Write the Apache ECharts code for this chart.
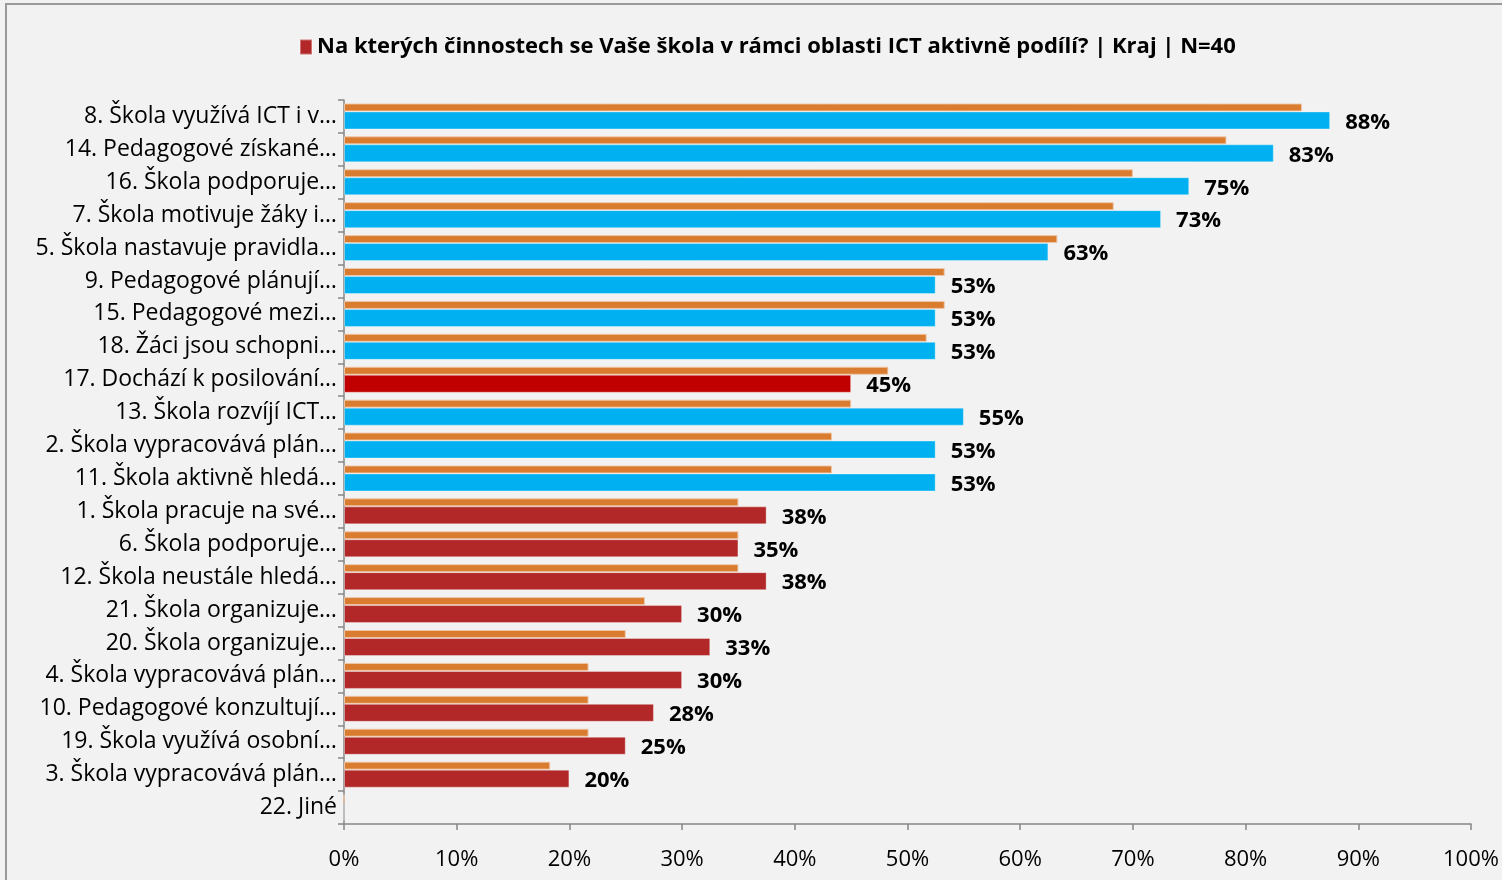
<!DOCTYPE html>
<html>
<head>
<meta charset="utf-8">
<script src="https://cdn.jsdelivr.net/npm/echarts@6/dist/echarts.min.js"></script>
<style>
  html, body { margin: 0; padding: 0; background: #F2F2F2; }
  #chart { width: 1502px; height: 880px; }
</style>
</head>
<body>
<div id="chart"></div>
<script>
// otázky (shora dolů)
var kategorie = [
  '8. Škola využívá ICT i v…',
  '14. Pedagogové získané…',
  '16. Škola podporuje…',
  '7. Škola motivuje žáky i…',
  '5. Škola nastavuje pravidla…',
  '9. Pedagogové plánují…',
  '15. Pedagogové mezi…',
  '18. Žáci jsou schopni…',
  '17. Dochází k posilování…',
  '13. Škola rozvíjí ICT…',
  '2. Škola vypracovává plán…',
  '11. Škola aktivně hledá…',
  '1. Škola pracuje na své…',
  '6. Škola podporuje…',
  '12. Škola neustále hledá…',
  '21. Škola organizuje…',
  '20. Škola organizuje…',
  '4. Škola vypracovává plán…',
  '10. Pedagogové konzultují…',
  '19. Škola využívá osobní…',
  '3. Škola vypracovává plán…',
  '22. Jiné'
]
// Kraj, N=40 (%)
var kraj = [87.5, 82.5, 75, 72.5, 62.5, 52.5, 52.5, 52.5, 45, 55, 52.5, 52.5,
  37.5, 35, 37.5, 30, 32.5, 30, 27.5, 25, 20, 0]
// srovnávací soubor (%)
var srovnani = [85, 78.3, 70, 68.3, 63.3, 53.3, 53.3, 51.7, 48.3, 45, 43.3, 43.3,
  35, 35, 35, 26.7, 25, 21.7, 21.7, 21.7, 18.3, 0]
// hodnocení oproti srovnání: 'nad', 'pod', 'vyrazne'
var hodnoceni = ['nad', 'nad', 'nad', 'nad', 'nad', 'nad', 'nad', 'nad', 'vyrazne',
  'nad', 'nad', 'nad', 'pod', 'pod', 'pod', 'pod', 'pod', 'pod', 'pod', 'pod', 'pod', 'pod']
var osaX = [0, 10, 20, 30, 40, 50, 60, 70, 80, 90, 100]

var nazev = 'Na kterých činnostech se Vaše škola v rámci oblasti ICT aktivně podílí? | Kraj | N=40'
var barvy = { nad: '#00B0F0', pod: '#B22828', vyrazne: '#C00000' }
var font = '"Open Sans", Lato, sans-serif'

var chart = echarts.init(document.getElementById('chart'))
var option = {
  backgroundColor: '#F2F2F2',
  animation: false,
  textStyle: { fontFamily: font },
  graphic: [{
    type: 'rect',
    shape: { x: 6, y: 4, width: 1520, height: 900 },
    style: { fill: 'none', stroke: '#9A9A9A', lineWidth: 2 }
  }],
  legend: {
    top: 31,
    left: 294,
    icon: 'rect',
    itemWidth: 12,
    itemHeight: 15,
    itemGap: 6,
    data: [nazev],
    textStyle: { fontSize: 22, fontWeight: 'bold', color: '#000', fontFamily: font }
  },
  grid: { left: 344, right: 31, top: 100, bottom: 56 },
  xAxis: {
    type: 'value',
    min: 0,
    max: 100,
    interval: 10,
    axisLine: { show: true, lineStyle: { color: '#868686', width: 1.5 } },
    axisTick: { show: true, length: 6, lineStyle: { color: '#868686', width: 1.5 } },
    splitLine: { show: false },
    axisLabel: {
      color: '#000',
      fontSize: 22,
      margin: 25,
      formatter: function(v) {
        return osaX.indexOf(v) >= 0 ? v + '%' : ''
      }
    }
  },
  yAxis: {
    type: 'category',
    inverse: true,
    data: kategorie,
    axisLine: { show: true, lineStyle: { color: '#868686', width: 1.5 } },
    axisTick: { show: true, length: 6, lineStyle: { color: '#868686', width: 1.5 } },
    axisLabel: { color: '#000', fontSize: 23, margin: 7 }
  },
  series: [
    {
      name: 'srovnání',
      type: 'bar',
      data: srovnani,
      barWidth: 8,
      barGap: '0%',
      barCategoryGap: '20%',
      itemStyle: { color: '#D97C30', borderColor: 'rgba(240,200,170,0.9)', borderWidth: 1 },
      z: 2
    },
    {
      name: nazev,
      type: 'bar',
      barWidth: 18,
      data: kraj.map(function(v, i) {
        return {
          value: v,
          itemStyle: { color: barvy[hodnoceni[i]] }
        }
      }),
      itemStyle: { color: '#B22828', borderColor: 'rgba(255,255,255,0.35)', borderWidth: 1 },
      label: {
        show: true,
        position: 'right',
        distance: 15,
        color: '#000',
        fontSize: 22,
        fontWeight: 'bold',
        fontFamily: font,
        offset: [0, 2],
        formatter: function(p) {
          return p.value > 0 ? Math.round(p.value) + '%' : ''
        }
      },
      z: 3
    }
  ]
}
chart.setOption(option, true)
window.addEventListener('resize', () => {
  chart.resize()
})
</script>
</body>
</html>
